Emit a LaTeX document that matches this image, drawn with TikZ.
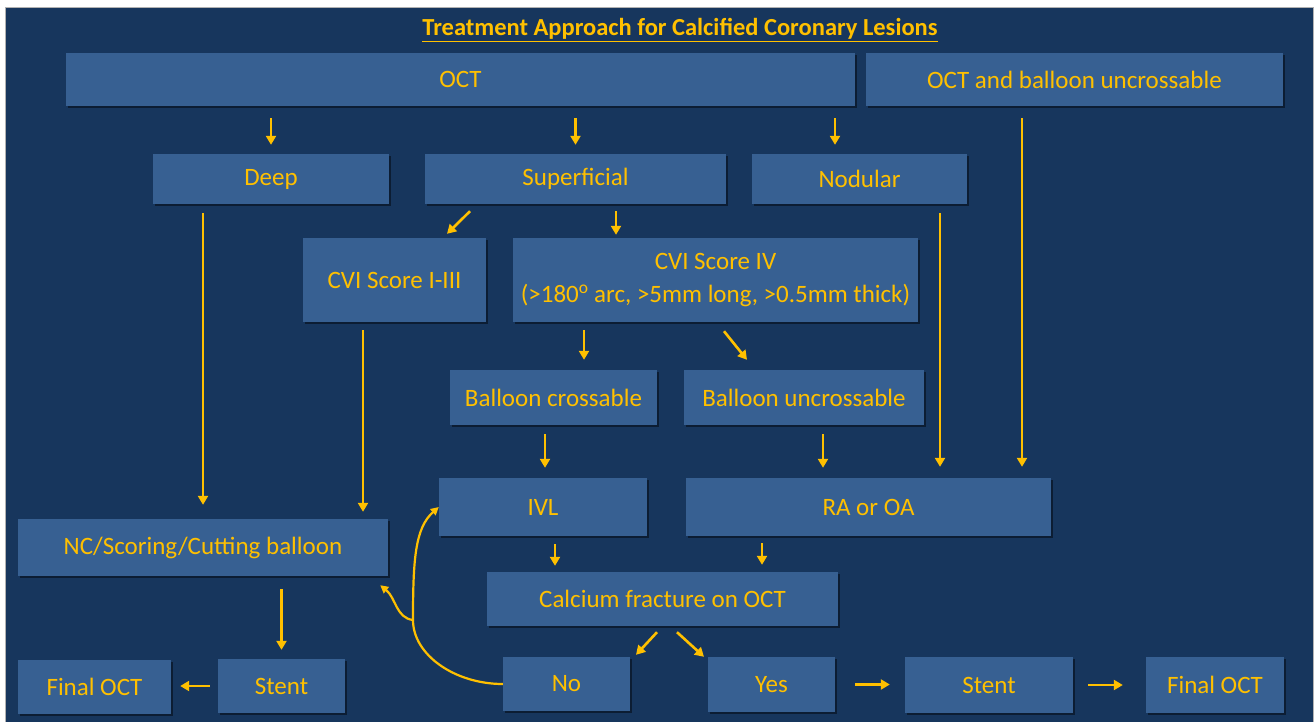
\documentclass[tikz,border=0pt]{standalone}
\usepackage{fontspec}
\setmainfont{Carlito}
\usetikzlibrary{arrows.meta,calc,shadows}
\definecolor{bg}{HTML}{17365D}
\definecolor{bx}{HTML}{376092}
\definecolor{gold}{HTML}{FFC000}
\newcommand\mybox[6]{%
  \pgfmathsetmacro\cx{(#2+#4)/2}\pgfmathsetmacro\cy{(#3+#5)/2}%
  \pgfmathsetmacro\ww{#4-#2}\pgfmathsetmacro\hh{#5-#3}%
  \node[box, minimum width=\ww pt, minimum height=\hh pt] (#1) at (\cx,\cy) {#6};}
\begin{document}
\begin{tikzpicture}[x=1pt,y=-1pt,
 box/.style={fill=bx, text=gold, font=\fontsize{25}{33}\selectfont, inner sep=0pt,
   drop shadow={shadow xshift=2pt,shadow yshift=-2pt,opacity=0.45,fill=black}, align=center},
 arr/.style={draw=gold, line width=2.6pt, -{Triangle[length=9pt,width=10pt]}},
 curv/.style={draw=gold, line width=2.2pt}]
\useasboundingbox (0,0) rectangle (1314,722);
\fill[white] (0,0) rectangle (1314,722);
\path[fill=bg, draw=gray!60, line width=0.6pt] (5,7) rectangle (1313,722);

\node[text=gold, font=\bfseries\fontsize{24.5}{28}\selectfont] (title) at (680,30)
  {\underline{Treatment Approach for Calcified Coronary Lesions}};

\mybox{oct}{66}{53}{855}{106}{OCT}
\mybox{octbu}{866}{53}{1283}{106}{OCT and balloon uncrossable}
\mybox{deep}{153}{154}{389}{204}{Deep}
\mybox{sup}{425}{154}{726}{204}{Superficial}
\mybox{nod}{752}{154}{967}{204}{Nodular}
\mybox{cvi13}{303}{238}{486}{322}{CVI Score I-III}
\mybox{cvi4}{513}{238}{918}{322}{CVI Score IV\\(>180\textsuperscript{o} arc, >5mm long, >0.5mm thick)}
\mybox{bc}{450}{370}{657}{425}{Balloon crossable}
\mybox{bu}{684}{370}{924}{425}{Balloon uncrossable}
\mybox{ivl}{439}{478}{647}{536}{IVL}
\mybox{ra}{686}{478}{1051}{536}{RA or OA}
\mybox{nc}{18}{519}{388}{576}{NC/Scoring/Cutting balloon}
\mybox{cal}{487}{572}{838}{626}{Calcium fracture on OCT}
\mybox{finL}{18}{660}{171}{714}{Final OCT}
\mybox{stL}{218}{659}{345}{713}{Stent}
\mybox{no}{503}{657}{630}{711}{No}
\mybox{yes}{708}{657}{835}{712}{Yes}
\mybox{stR}{905}{657}{1073}{713}{Stent}
\mybox{finR}{1146}{657}{1284}{713}{Final OCT}

% arrows
\draw[arr, shorten <=12pt, shorten >=9pt] (oct.south -| deep.north) -- (deep.north);
\draw[arr, shorten <=12pt, shorten >=9pt] (oct.south -| sup.north) -- (sup.north);
\coordinate (nodx) at ($(nod.north)+(-24.5,0)$);
\draw[arr, shorten <=12pt, shorten >=9pt] (oct.south -| nodx) -- (nodx);
\draw[arr] ($(sup.south)+(-105.5,7)$) -- ($(cvi13.north)+(52.5,-4)$);
\coordinate (c4x) at ($(cvi4.north)+(-99.5,0)$);
\draw[arr, shorten <=7pt, shorten >=3pt] (sup.south -| c4x) -- (c4x);
\draw[arr, shorten <=9pt, shorten >=14pt] (deep.south -| nc.north) -- (nc.north);
\coordinate (ncx) at ($(nc.north)+(160,0)$);
\draw[arr, shorten <=8pt, shorten >=7pt] (cvi13.south -| ncx) -- (ncx);
\coordinate (bcx) at ($(bc.north)+(30.5,0)$);
\draw[arr, shorten <=8pt, shorten >=10pt] (cvi4.south -| bcx) -- (bcx);
\draw[arr] ($(cvi4.south)+(8.5,9)$) -- ($(bu.north)+(-57,-10)$);
\coordinate (rax1) at ($(ra.north)+(71.5,0)$);
\draw[arr, shorten <=9pt, shorten >=11pt] (nod.south -| rax1) -- (rax1);
\coordinate (rax2) at ($(ra.north)+(153.5,0)$);
\draw[arr, shorten <=12pt, shorten >=11pt] (octbu.south -| rax2) -- (rax2);
\coordinate (ivx) at ($(ivl.north)+(2,0)$);
\draw[arr, shorten <=9pt, shorten >=10pt] (bc.south -| ivx) -- (ivx);
\coordinate (rax3) at ($(ra.north)+(-45.5,0)$);
\draw[arr, shorten <=9pt, shorten >=10pt] (bu.south -| rax3) -- (rax3);
\coordinate (calx1) at ($(cal.north)+(-107.5,0)$);
\draw[arr, shorten <=8pt, shorten >=6pt] (ivl.south -| calx1) -- (calx1);
\coordinate (calx2) at ($(cal.north)+(99.5,0)$);
\draw[arr, shorten <=7pt, shorten >=7pt] (ra.south -| calx2) -- (calx2);
\draw[arr] ($(cal.south)+(-5.5,6)$) -- ($(no.north)+(69.5,-2)$);
\draw[arr] ($(cal.south)+(14.5,6)$) -- ($(yes.north)+(-67.5,0)$);
\draw[arr, shorten <=13pt, shorten >=9pt] (nc.south -| stL.north) -- (stL.north);
\draw[arr, shorten <=8pt, shorten >=9pt] (stL.west) -- (stL.west -| finL.east);
\draw[arr, shorten <=20pt, shorten >=15pt] (yes.east) -- (yes.east -| stR.west);
\draw[arr, shorten <=15pt, shorten >=23pt] (stR.east) -- (stR.east -| finR.west);

% loop back from No
\coordinate (split) at (413,620);
\draw[curv] (no.west) .. controls (455,684) and (413,655) .. (split);
\draw[curv, -{Triangle[length=8pt,width=8pt]}] (split) .. controls (413,560) and (415,528) .. (ivl.west);
\draw[curv, -{Triangle[length=8pt,width=8pt]}] (split) .. controls (396,618) and (396,598) .. ($(nc.south east)+(-8,9)$);
\end{tikzpicture}
\end{document}
